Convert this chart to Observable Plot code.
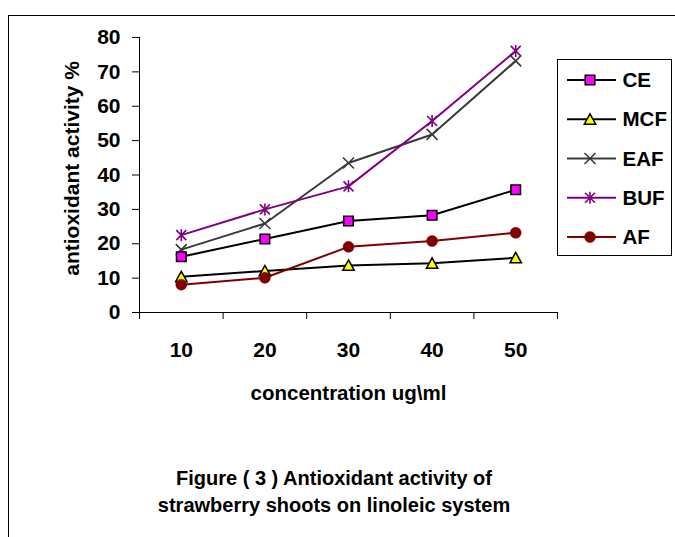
<!DOCTYPE html>
<html>
<head>
<meta charset="utf-8">
<script src="https://cdn.jsdelivr.net/npm/d3@7"></script>
<script src="https://cdn.jsdelivr.net/npm/@observablehq/plot@0.6"></script>
<style>
  html, body { margin: 0; padding: 0; background: #fff; }
  #page { position: relative; width: 675px; height: 537px; overflow: hidden; font-family: "Liberation Sans", Arial, sans-serif; }
  #frame { position: absolute; left: 8px; top: 15px; width: 667px; height: 522px; border-top: 1px solid #000; border-left: 1px solid #000; }
  #chart { position: absolute; left: 0; top: 0; }
  #legend { position: absolute; left: 557px; top: 59px; }
  #caption { position: absolute; left: 134px; top: 465px; width: 400px; text-align: center; font: bold 20px/27px "Liberation Sans", Arial, sans-serif; color: #000; }
</style>
</head>
<body>
<div id="page">
  <div id="frame"></div>
  <div id="chart"></div>
  <svg id="legend" width="116" height="198"></svg>
  <div id="caption">Figure ( 3 ) Antioxidant activity of<br>strawberry shoots on linoleic system</div>
</div>
<script>
// ---- data ----
const concentrations = [10, 20, 30, 40, 50];
const seriesNames = ["CE", "MCF", "EAF", "BUF", "AF"];
const ce  = [16.2, 21.4, 26.6, 28.3, 35.7];
const mcf = [10.4, 12.1, 13.7, 14.3, 15.9];
const eaf = [18.3, 25.9, 43.5, 51.8, 73.2];
const buf = [22.5, 30.0, 36.7, 55.7, 76.1];
const af  = [8.1, 10.1, 19.1, 20.8, 23.2];
const yTicks = [0, 10, 20, 30, 40, 50, 60, 70, 80];
const xLabel = "concentration ug\\ml";
const yLabel = "antioxidant activity %";

// ---- custom marker symbols (Excel-like) ----
const rOf = size => Math.sqrt(size / Math.PI);
const symSquare = {draw(c, s) { const r = rOf(s); c.rect(-r, -r, 2 * r, 2 * r); }};
const symTriangle = {draw(c, s) { const r = rOf(s); c.moveTo(0, -r * 1.05); c.lineTo(r * 1.1, r * 0.95); c.lineTo(-r * 1.1, r * 0.95); c.closePath(); }};
const symTimes = {draw(c, s) { const r = rOf(s); c.moveTo(-r, -r); c.lineTo(r, r); c.moveTo(-r, r); c.lineTo(r, -r); }};
const symStar = {draw(c, s) { const r = rOf(s); c.moveTo(0, -r * 1.2); c.lineTo(0, r * 1.2); c.moveTo(-r, -r); c.lineTo(r, r); c.moveTo(-r, r); c.lineTo(r, -r); }};
const symCircle = {draw(c, s) { const r = rOf(s); c.moveTo(r, 0); c.arc(0, 0, r, 0, 2 * Math.PI); }};

const styles = {
  CE:  {values: ce,  line: "#000000", symbol: symSquare,   r: 4.8, fill: "#ff00ff", stroke: "#000000", sw: 1.5},
  MCF: {values: mcf, line: "#000000", symbol: symTriangle, r: 5.2, fill: "#ffff00", stroke: "#000000", sw: 1.5},
  EAF: {values: eaf, line: "#3a3a3a", symbol: symTimes,    r: 5.5, fill: "none",    stroke: "#3a3a3a", sw: 1.6},
  BUF: {values: buf, line: "#800080", symbol: symStar,     r: 5.0, fill: "none",    stroke: "#800080", sw: 1.6},
  AF:  {values: af,  line: "#800000", symbol: symCircle,   r: 5.5, fill: "#800000", stroke: "#800000", sw: 0.5}
};

const table = seriesNames.flatMap(name =>
  concentrations.map((c, i) => ({series: name, conc: c, value: styles[name].values[i]})));

const font = '"Liberation Sans", Arial, sans-serif';
const lineMarks = seriesNames.map(name => Plot.line(table.filter(d => d.series === name), {
  x: "conc", y: "value", stroke: styles[name].line, strokeWidth: 2
}));
const dotOrder = ["MCF", "EAF", "BUF", "CE", "AF"];
const dotMarks = dotOrder.map(name => Plot.dot(table.filter(d => d.series === name), {
  x: "conc", y: "value", symbol: styles[name].symbol, r: styles[name].r,
  fill: styles[name].fill, stroke: styles[name].stroke, strokeWidth: styles[name].sw
}));

const chart = Plot.plot({
  width: 675,
  height: 537,
  marginLeft: 139,
  marginRight: 118,
  marginTop: 37,
  marginBottom: 225,
  style: {fontFamily: font, fontSize: "20px", fontWeight: "bold", color: "#000", background: "transparent", overflow: "visible"},
  x: {type: "linear", domain: [5, 55], axis: null, label: null},
  y: {type: "linear", domain: [0, 80], axis: null, label: null},
  marks: [
    Plot.axisY({ticks: yTicks, tickSize: 7, tickPadding: 12, label: null, fontSize: 21, fontWeight: "bold", stroke: "#000"}),
    Plot.axisX({ticks: [5, 15, 25, 35, 45, 55], tickSize: 7, tickFormat: () => "", label: null, stroke: "#000"}),
    Plot.axisX({ticks: concentrations, tickSize: 0, tickPadding: 29.5, label: null, fontSize: 21, fontWeight: "bold"}),
    Plot.ruleX([5], {stroke: "#000", strokeWidth: 1}),
    Plot.ruleY([0], {stroke: "#000", strokeWidth: 1}),
    ...lineMarks,
    ...dotMarks,
    Plot.text([xLabel], {text: d => d, frameAnchor: "bottom", dy: 87, fontSize: 20.5, fontWeight: "bold", fill: "#000"}),
    Plot.text([yLabel], {text: d => d, frameAnchor: "left", textAnchor: "middle", rotate: -90, dx: -67, dy: -6.6, fontSize: 21, fontWeight: "bold", fill: "#000"})
  ]
});
document.getElementById("chart").appendChild(chart);

// ---- legend ----
const leg = d3.select("#legend");
leg.append("rect").attr("x", 0.5).attr("y", 0.5).attr("width", 114).attr("height", 196)
  .attr("fill", "#fff").attr("stroke", "#000").attr("stroke-width", 1);
const entryY = d3.scalePoint().domain(seriesNames).range([21, 178]);
seriesNames.forEach(name => {
  const s = styles[name];
  const g = leg.append("g").attr("transform", `translate(0,${entryY(name)})`);
  g.append("line").attr("x1", 10).attr("x2", 59).attr("y1", 0).attr("y2", 0)
    .attr("stroke", s.line).attr("stroke-width", 2);
  g.append("path").attr("transform", "translate(33,0)")
    .attr("d", d3.symbol(s.symbol, Math.PI * s.r * s.r)())
    .attr("fill", s.fill).attr("stroke", s.stroke).attr("stroke-width", s.sw);
  g.append("text").attr("x", 65.5).attr("y", 0).attr("dy", "0.35em")
    .attr("font-family", font).attr("font-size", 20.5).attr("font-weight", "bold").attr("fill", "#000")
    .text(name);
});
</script>
</body>
</html>
